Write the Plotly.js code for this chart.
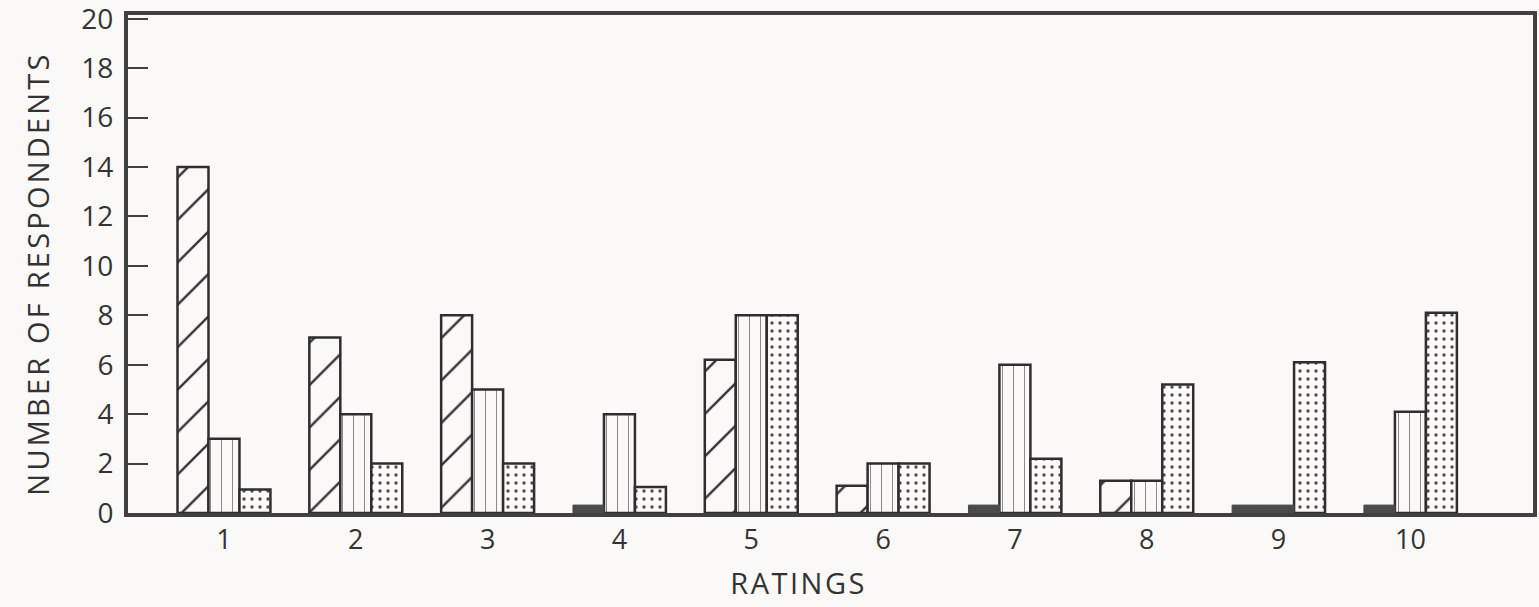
<!DOCTYPE html>
<html>
<head>
<meta charset="utf-8">
<script src="https://cdn.plot.ly/plotly-3.0.1.min.js"></script>
<style>
  html, body { margin: 0; padding: 0; background: #fbf9f7; }
  #chart { width: 1539px; height: 607px; }
  #chart .annotation[data-index="0"] .annotation-text { letter-spacing: 2.5px; }
  #chart .annotation[data-index="1"] .annotation-text { letter-spacing: 3.2px; }
</style>
</head>
<body>
<div id="chart"></div>
<script>
// ---- data ----
const ratings = [1, 2, 3, 4, 5, 6, 7, 8, 9, 10];
const tickLabels = ["1", "2", "3", "4", "5", "6", "7", "8", "9", "10"];
const hatched = [14, 7.1, 8, 0, 6.2, 1.1, 0, 1.3, 0, 0];      // diagonal-hatched bars
const dashed  = [3, 4, 5, 4, 8, 2, 6, 1.3, 0, 4.1];           // vertical-dash bars
const dotted  = [0.95, 2, 2, 1.05, 8, 2, 2.2, 5.2, 6.1, 8.1]; // dotted bars
const yTicks = [0, 2, 4, 6, 8, 10, 12, 14, 16, 18, 20];
const xTitle = 'RATINGS';
const yTitle = 'NUMBER OF RESPONDENTS';

// ---- styling ----
const BG = '#fbf9f7';
const INK = '#333333';
const FONT = '"Open Sans", Lato, sans-serif';
const BAR_W = 0.235;
const STUB = 0.32; // visual height of the dark stub drawn for zero counts

function barTrace(y, offset, pattern) {
  return {
    type: 'bar', x: ratings, y: y, width: BAR_W, offset: offset,
    marker: {
      color: BG,
      line: { color: '#2e2e2e', width: 2.5 },
      pattern: Object.assign({ bgcolor: BG, fillmode: 'replace' }, pattern)
    },
    hoverinfo: 'x+y', showlegend: false
  };
}
function stubTrace(y, offset) {
  return {
    type: 'bar', x: ratings, y: y.map(v => v === 0 ? STUB : null),
    width: BAR_W, offset: offset,
    marker: { color: '#4a4a4a', line: { color: '#4a4a4a', width: 1 } },
    hoverinfo: 'skip', showlegend: false
  };
}

const offs = [-1.5 * BAR_W, -0.5 * BAR_W, 0.5 * BAR_W];
const data = [
  barTrace(hatched, offs[0], { shape: '/', size: 30, solidity: 0.08, fgcolor: '#333' }),
  barTrace(dashed,  offs[1], { shape: '|', size: 11, solidity: 0.09, fgcolor: '#8a8a8a' }),
  barTrace(dotted,  offs[2], { shape: '.', size: 8, solidity: 0.14, fgcolor: '#505050' }),
  stubTrace(hatched, offs[0]),
  stubTrace(dashed, offs[1]),
  stubTrace(dotted, offs[2])
];

const layout = {
  width: 1539, height: 607,
  paper_bgcolor: BG, plot_bgcolor: BG,
  barmode: 'overlay',
  margin: { l: 128, r: 6, t: 15, b: 94 },
  font: { family: FONT, color: INK, size: 26 },
  xaxis: {
    range: [0.272, 10.93],
    tickvals: ratings, ticktext: tickLabels,
    ticks: '', showgrid: false, zeroline: false,
    showline: true, mirror: true, linecolor: '#404040', linewidth: 4,
    tickfont: { family: FONT, size: 27, color: INK },
    ticklabelstandoff: 0
  },
  yaxis: {
    range: [0, 20.15],
    tickvals: yTicks,
    ticks: 'inside', ticklen: 20, tickwidth: 2, tickcolor: '#404040',
    showgrid: false, zeroline: false,
    showline: true, mirror: true, linecolor: '#404040', linewidth: 4,
    tickfont: { family: FONT, size: 28, color: INK },
    ticklabelstandoff: 5, ticklabeloverflow: 'allow'
  },
  annotations: [{
    text: xTitle, xref: 'paper', yref: 'paper', x: 0.477, y: -0.14,
    xanchor: 'center', yanchor: 'middle', showarrow: false,
    font: { family: FONT, size: 29, color: INK }
  }, {
    text: yTitle, xref: 'paper', yref: 'paper', x: -0.064, y: 0.48,
    xanchor: 'center', yanchor: 'middle', textangle: -90, showarrow: false,
    font: { family: FONT, size: 29, color: INK }
  }]
};

Plotly.newPlot('chart', data, layout, { displayModeBar: false, staticPlot: true });
</script>
</body>
</html>
